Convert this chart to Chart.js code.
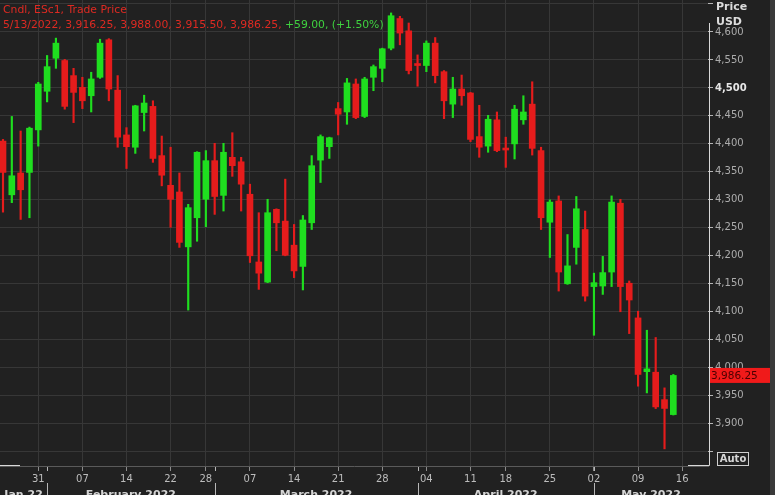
<!DOCTYPE html>
<html>
<head>
<meta charset="utf-8">
<script src="https://cdn.jsdelivr.net/npm/chart.js@4.4.1/dist/chart.umd.min.js"></script>
<style>
  html, body { margin: 0; padding: 0; background: #1f1f1f; overflow: hidden; }
  canvas { display: block; }
</style>
</head>
<body>
<canvas id="chart" width="775" height="495"></canvas>
<script>
// ESc1 daily candles
const dates = [
  '2022-01-25','2022-01-26','2022-01-27','2022-01-28','2022-01-31',
  '2022-02-01','2022-02-02','2022-02-03','2022-02-04','2022-02-07','2022-02-08','2022-02-09','2022-02-10','2022-02-11',
  '2022-02-14','2022-02-15','2022-02-16','2022-02-17','2022-02-18','2022-02-22','2022-02-23','2022-02-24','2022-02-25','2022-02-28',
  '2022-03-01','2022-03-02','2022-03-03','2022-03-04','2022-03-07','2022-03-08','2022-03-09','2022-03-10','2022-03-11',
  '2022-03-14','2022-03-15','2022-03-16','2022-03-17','2022-03-18','2022-03-21','2022-03-22','2022-03-23','2022-03-24','2022-03-25',
  '2022-03-28','2022-03-29','2022-03-30','2022-03-31',
  '2022-04-01','2022-04-04','2022-04-05','2022-04-06','2022-04-07','2022-04-08','2022-04-11','2022-04-12','2022-04-13','2022-04-14',
  '2022-04-18','2022-04-19','2022-04-20','2022-04-21','2022-04-22','2022-04-25','2022-04-26','2022-04-27','2022-04-28','2022-04-29',
  '2022-05-02','2022-05-03','2022-05-04','2022-05-05','2022-05-06','2022-05-09','2022-05-10','2022-05-11','2022-05-12','2022-05-13'
];
// empty sessions on the right of the axis
const futureDates = ['2022-05-16','2022-05-17','2022-05-18','2022-05-19'];

const opens = [
  4405, 4309, 4348, 4349, 4425, 4494, 4553, 4549, 4522, 4501,
  4486, 4519, 4586, 4496, 4416, 4394, 4456, 4467, 4379, 4326,
  4314, 4216, 4268, 4301, 4370, 4308, 4376, 4368, 4310, 4189,
  4153, 4283, 4262, 4219, 4181, 4259, 4371, 4395, 4463, 4457,
  4507, 4449, 4519, 4535, 4571, 4624, 4602, 4543, 4540, 4580,
  4529, 4471, 4498, 4491, 4413, 4396, 4443, 4392, 4400, 4443,
  4471, 4388, 4260, 4298, 4150, 4215, 4247, 4145, 4146, 4171,
  4294, 4151, 4089, 3993, 3992, 3943, 3916.25
];
const highs = [
  4408, 4449, 4423, 4430, 4510, 4558, 4589, 4551, 4535, 4519,
  4528, 4587, 4588, 4522, 4429, 4469, 4487, 4477, 4414, 4394,
  4348, 4292, 4386, 4388, 4401, 4401, 4420, 4376, 4328, 4277,
  4301, 4284, 4337, 4256, 4272, 4379, 4416, 4412, 4474, 4517,
  4516, 4519, 4541, 4571, 4634, 4628, 4616, 4559, 4584, 4590,
  4531, 4519, 4523, 4492, 4469, 4451, 4457, 4412, 4469, 4486,
  4511, 4394, 4300, 4307, 4238, 4306, 4280, 4169, 4199, 4307,
  4301, 4155, 4101, 4067, 4054, 3964, 3988
];
const lows = [
  4278, 4295, 4265, 4268, 4396, 4475, 4535, 4462, 4438, 4463,
  4457, 4517, 4477, 4394, 4356, 4383, 4423, 4367, 4325, 4251,
  4215, 4103, 4226, 4252, 4274, 4280, 4342, 4280, 4188, 4140,
  4152, 4209, 4200, 4161, 4139, 4247, 4331, 4374, 4416, 4435,
  4445, 4447, 4495, 4511, 4568, 4577, 4525, 4503, 4529, 4509,
  4445, 4447, 4469, 4404, 4376, 4385, 4386, 4358, 4373, 4435,
  4380, 4247, 4197, 4137, 4149, 4185, 4119, 4058, 4131, 4145,
  4100, 4061, 3967, 3955, 3927, 3855, 3915.5
];
const closes = [
  4349, 4343, 4318, 4428, 4507, 4538, 4580, 4467, 4492, 4477,
  4516, 4580, 4498, 4412, 4395, 4468, 4473, 4374, 4344, 4301,
  4224, 4286, 4385, 4370, 4306, 4385, 4361, 4328, 4200, 4169,
  4277, 4259, 4201, 4173, 4264, 4361, 4413, 4411, 4453, 4509,
  4447, 4516, 4538, 4570, 4629, 4598, 4531, 4540, 4580, 4522,
  4477, 4498, 4486, 4408, 4394, 4444, 4388, 4389, 4462, 4457,
  4392, 4268, 4296, 4171, 4182, 4284, 4128, 4152, 4170, 4296,
  4145, 4121, 3988, 3998, 3930, 3927.25, 3986.25
];

// axis ticks
const weekTicks = [
  '2022-01-31','2022-02-07','2022-02-14','2022-02-22','2022-02-28','2022-03-07','2022-03-14','2022-03-21',
  '2022-03-28','2022-04-04','2022-04-11','2022-04-18','2022-04-25','2022-05-02','2022-05-09','2022-05-16'
];
const monthStarts = ['2022-02-01','2022-03-01','2022-04-01','2022-05-02'];
const monthNames = ['Jan 22','February 2022','March 2022','April 2022','May 2022'];
const priceTicks = [3850, 3900, 3950, 4000, 4050, 4100, 4150, 4200, 4250, 4300, 4350, 4400, 4450, 4500, 4550, 4600, 4650];
const shownPrices = [3900, 3950, 4000, 4050, 4100, 4150, 4200, 4250, 4300, 4350, 4400, 4450, 4500, 4550, 4600];

const GREEN = '#1fde1f';
const RED = '#e51c1c';
const FONT = 'DejaVu Sans';

const sessions = dates.concat(futureDates);
const candleColors = dates.map((d, i) => closes[i] >= opens[i] ? GREEN : RED);

function fmt(v) {
  return v.toLocaleString('en-US', { minimumFractionDigits: 2, maximumFractionDigits: 2 });
}

const decor = {
  id: 'decor',
  beforeDraw(chart) {
    const { ctx, width, height } = chart;
    ctx.save();
    ctx.fillStyle = '#212121';
    ctx.fillRect(0, 0, width, height);
    ctx.fillStyle = '#3a3a3a';
    ctx.fillRect(width - 5, 0, 5, height);
    ctx.restore();
  },
  afterDraw(chart) {
    const { ctx, chartArea, scales } = chart;
    const xs = scales.x, ys = scales.y;
    ctx.save();

    // header
    const n = dates.length - 1;
    const [yy, mm, dd] = dates[n].split('-');
    const chg = closes[n] - closes[n - 1];
    const pct = chg / closes[n - 1] * 100;
    ctx.font = '10.8px ' + FONT;
    ctx.textBaseline = 'middle';
    ctx.textAlign = 'left';
    ctx.fillStyle = '#de2a22';
    ctx.fillText('Cndl, ESc1, Trade Price', 3, 10);
    const redPart = parseInt(mm) + '/' + parseInt(dd) + '/' + yy + ', ' + fmt(opens[n]) + ', ' + fmt(highs[n]) + ', ' +
      fmt(lows[n]) + ', ' + fmt(closes[n]) + ', ';
    ctx.fillText(redPart, 3, 25);
    const w = ctx.measureText(redPart).width;
    ctx.fillStyle = '#3fd23f';
    ctx.fillText((chg >= 0 ? '+' : '') + fmt(chg) + ', (' + (pct >= 0 ? '+' : '') + pct.toFixed(2) + '%)', 3 + w, 25);

    // price axis header
    ctx.fillStyle = '#dcdcdc';
    ctx.font = 'bold 11px ' + FONT;
    ctx.fillText('Price', 716, 7);
    ctx.fillText('USD', 716, 22);

    // axis frame
    ctx.strokeStyle = '#d8d8d8';
    ctx.lineWidth = 1;
    ctx.beginPath();
    ctx.moveTo(709.5, 23);
    ctx.lineTo(709.5, 465.5);
    ctx.lineTo(688, 465.5);
    ctx.moveTo(0, 465.5);
    ctx.lineTo(20, 465.5);
    ctx.stroke();

    // last price box
    const yp = ys.getPixelForValue(closes[n]);
    ctx.fillStyle = '#f01a1a';
    ctx.fillRect(710, yp - 7.5, 60, 15);
    ctx.fillStyle = '#4a0000';
    ctx.font = '10.5px ' + FONT;
    ctx.fillText(fmt(closes[n]), 711, yp + 0.5);

    // Auto box
    ctx.strokeStyle = '#cfcfcf';
    ctx.strokeRect(717.5, 452.5, 31, 13);
    ctx.fillStyle = '#d6d6d6';
    ctx.font = 'bold 10px ' + FONT;
    ctx.textAlign = 'center';
    ctx.fillText('Auto', 733, 459.5);

    // month separators and labels
    const bounds = [chartArea.left].concat(monthStarts.map(d => xs.getPixelForValue(sessions.indexOf(d))), [chartArea.right]);
    ctx.strokeStyle = '#b8b8b8';
    ctx.beginPath();
    monthStarts.forEach(d => {
      const px = Math.round(xs.getPixelForValue(sessions.indexOf(d))) + 0.5;
      ctx.moveTo(px, 467); ctx.lineTo(px, 471);
      ctx.moveTo(px, 483); ctx.lineTo(px, 495);
    });
    ctx.stroke();
    ctx.fillStyle = '#d4d4d4';
    ctx.font = 'bold 11px ' + FONT;
    monthNames.forEach((m, i) => {
      ctx.fillText(m, (bounds[i] + bounds[i + 1]) / 2, 495);
    });
    ctx.restore();
  }
};

new Chart(document.getElementById('chart'), {
  type: 'bar',
  data: {
    datasets: [
      {
        label: 'Body',
        data: dates.map((d, i) => ({ x: i, y: [Math.min(opens[i], closes[i]), Math.max(opens[i], closes[i])] })),
        backgroundColor: candleColors,
        barThickness: 6,
        minBarLength: 2,
        grouped: false,
        order: 0
      },
      {
        label: 'Wick',
        data: dates.map((d, i) => ({ x: i, y: [lows[i], highs[i]] })),
        backgroundColor: candleColors,
        barThickness: 1.5,
        grouped: false,
        order: 1
      }
    ]
  },
  options: {
    responsive: false,
    animation: false,
    devicePixelRatio: 1,
    layout: { padding: 0 },
    plugins: {
      legend: { display: false },
      tooltip: { enabled: false }
    },
    scales: {
      x: {
        type: 'linear',
        min: -0.34,
        max: 79.93,
        offset: false,
        afterBuildTicks: s => { s.ticks = weekTicks.map(d => ({ value: sessions.indexOf(d) })); },
        afterFit: s => { s.height = 29; s.paddingLeft = 0; s.paddingRight = 0; },
        grid: { color: '#373737', tickColor: '#8c8c8c', tickLength: 5, offset: false },
        border: { color: '#5a5a5a' },
        ticks: {
          color: '#bdbdbd',
          font: { family: FONT, size: 10 },
          padding: 2,
          maxRotation: 0,
          autoSkip: false,
          callback: v => sessions[v] ? sessions[v].slice(8) : ''
        }
      },
      y: {
        position: 'right',
        min: 3824.4,
        max: 4657.1,
        afterBuildTicks: s => { s.ticks = priceTicks.map(v => ({ value: v })); },
        afterFit: s => { s.width = 67; s.paddingTop = 0; s.paddingBottom = 0; },
        grid: { color: '#373737', tickColor: '#b5b5b5', tickLength: 5 },
        border: { display: false },
        ticks: {
          padding: 2,
          color: c => c.tick && c.tick.value === 4500 ? '#e6e6e6' : '#acacac',
          font: c => ({ family: FONT, size: 10, weight: c.tick && c.tick.value === 4500 ? 'bold' : 'normal' }),
          callback: v => shownPrices.includes(v) ? v.toLocaleString('en-US') : ''
        }
      }
    }
  },
  plugins: [decor]
});
</script>
</body>
</html>
